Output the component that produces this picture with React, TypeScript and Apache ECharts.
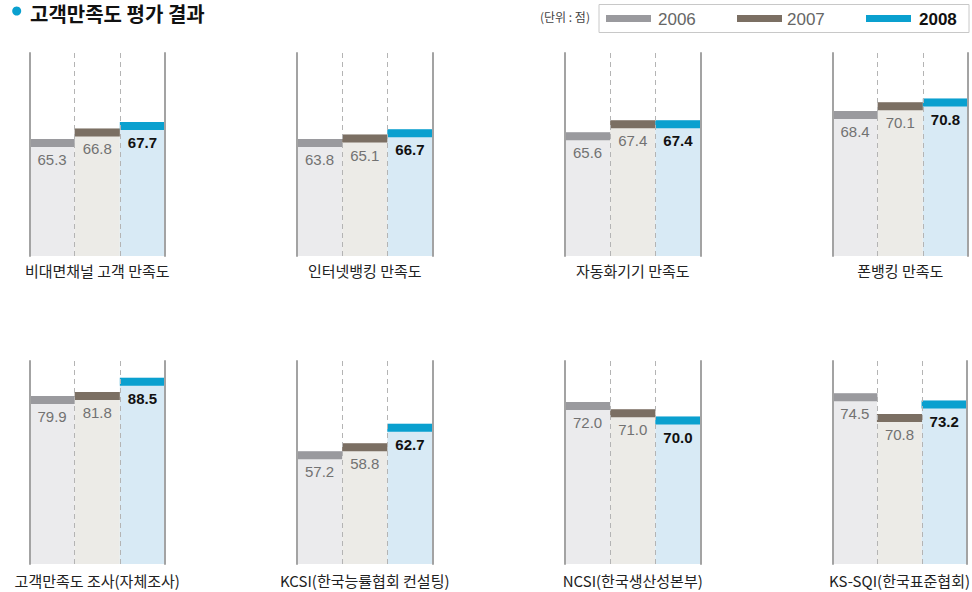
import React, { useEffect, useRef } from "react";
import * as echarts from "echarts";

const categories = [
  "비대면채널 고객 만족도",
  "인터넷뱅킹 만족도",
  "자동화기기 만족도",
  "폰뱅킹 만족도",
  "고객만족도 조사(자체조사)",
  "KCSI(한국능률협회 컨설팅)",
  "NCSI(한국생산성본부)",
  "KS-SQI(한국표준협회)",
];
const years = ["2006", "2007", "2008"];
const v2006 = [65.3, 63.8, 65.6, 68.4, 79.9, 57.2, 72.0, 74.5];
const v2007 = [66.8, 65.1, 67.4, 70.1, 81.8, 58.8, 71.0, 70.8];
const v2008 = [67.7, 66.7, 67.4, 70.8, 88.5, 62.7, 70.0, 73.2];
// per-panel value-axis ranges (the source panels are not drawn to one scale)
const axisMin = [48.7, 28.5, 47.0, 40.4, 0, 34.6, 49.8, 43.9];
const axisMax = [77.5, 89.7, 77.5, 79.6, 96.5, 75.3, 77.6, 80.3];

const FONT = '"Liberation Sans", Arial, "Noto Sans CJK KR", sans-serif';
const KFONT = '"Noto Sans CJK KR", "Liberation Sans", sans-serif';
const bandColors = ["#9a9a9e", "#7b6f63", "#0aa0cf"];
const fillColors = ["#ebebed", "#ecebe7", "#d8eaf5"];
const labelColors = ["#727272", "#727272", "#111111"];
const labelWeights = ["normal", "normal", "bold"];

const lefts = [29.5, 297, 565, 832.5];
const tops = [53, 361];
const gw = 135.5;
const gh = 203;
const nameGaps = [7, 9];

export default function App() {
  const ref = useRef<HTMLDivElement>(null);
  useEffect(() => {
    if (!ref.current) return;
    const chart = echarts.init(ref.current, undefined, { renderer: "svg" });
    const grids: any[] = [];
    const xAxes: any[] = [];
    const yAxes: any[] = [];
    const series: any[] = [];
    const bandW = gw / 3;
    categories.forEach((cat, i) => {
      const row = Math.floor(i / 4);
      const col = i % 4;
      grids.push({ left: lefts[col], top: tops[row], width: gw, height: gh, containLabel: false });
      xAxes.push({
        type: "category",
        gridIndex: i,
        data: years,
        z: 5,
        axisLine: { show: false },
        axisTick: { show: false },
        axisLabel: { show: false },
        splitLine: { show: true, lineStyle: { color: "#b4b4b4", width: 1, type: [5, 4] } },
        name: cat,
        nameLocation: "middle",
        nameGap: nameGaps[row],
        nameTextStyle: { fontSize: 15, color: "#222", fontFamily: KFONT, verticalAlign: "top" },
      });
      yAxes.push({
        type: "value",
        gridIndex: i,
        min: axisMin[i],
        max: axisMax[i],
        z: 6,
        axisLine: { show: true, onZero: false, lineStyle: { color: "#a3a3a3", width: 2 } },
        axisTick: { show: false },
        axisLabel: { show: false },
        splitLine: { show: false },
      });
      yAxes.push({
        type: "value",
        gridIndex: i,
        position: "right",
        min: 0,
        max: 1,
        z: 6,
        axisLine: { show: true, onZero: false, lineStyle: { color: "#a3a3a3", width: 2 } },
        axisTick: { show: false },
        axisLabel: { show: false },
        splitLine: { show: false },
      });
      const vals = [v2006[i], v2007[i], v2008[i]];
      series.push({
        type: "bar",
        xAxisIndex: i,
        yAxisIndex: i * 2,
        barWidth: "100%",
        barCategoryGap: 0,
        z: 2,
        data: vals.map((v, k) => ({
          value: v,
          itemStyle: { color: fillColors[k] },
          label: { color: labelColors[k], fontWeight: labelWeights[k] },
        })),
        label: {
          show: true,
          position: "insideTop",
          distance: 13,
          fontSize: 15,
          fontFamily: FONT,
          formatter: (p: any) => Number(p.value).toFixed(1),
        },
      });
      series.push({
        type: "scatter",
        xAxisIndex: i,
        yAxisIndex: i * 2,
        symbol: "rect",
        symbolSize: [bandW, 8],
        symbolOffset: [0, 4],
        z: 3,
        data: vals.map((v, k) => ({ value: [k, v], itemStyle: { color: bandColors[k], opacity: 1 } })),
      });
    });

    const legendX = [606, 737, 866];
    const legendTextX = [658, 787, 919];
    const graphic: any[] = [
      { type: "circle", shape: { cx: 16.7, cy: 11, r: 4.5 }, style: { fill: "#0aa0cf" } },
      {
        type: "text",
        x: 30,
        y: 13,
        style: { text: "고객만족도 평가 결과", fontSize: 20, fontWeight: "bold", fill: "#111", fontFamily: KFONT, verticalAlign: "middle" },
      },
      {
        type: "text",
        x: 540,
        y: 16.5,
        style: { text: "(단위 : 점)", fontSize: 12, fill: "#444", fontFamily: KFONT, verticalAlign: "middle" },
      },
      {
        type: "rect",
        shape: { x: 599, y: 4.5, width: 370, height: 28 },
        style: { fill: "none", stroke: "#c8c8c8", lineWidth: 1 },
      },
    ];
    years.forEach((y, k) => {
      graphic.push({ type: "rect", shape: { x: legendX[k], y: 15, width: 45, height: 7 }, style: { fill: bandColors[k] } });
      graphic.push({
        type: "text",
        x: legendTextX[k],
        y: 19,
        style: {
          text: y,
          fontSize: 17,
          fontWeight: k === 2 ? "bold" : "normal",
          fill: k === 2 ? "#111" : "#666",
          fontFamily: FONT,
          verticalAlign: "middle",
        },
      });
    });

    chart.setOption({
      animation: false,
      backgroundColor: "#ffffff",
      grid: grids,
      xAxis: xAxes,
      yAxis: yAxes,
      series,
      graphic,
    });
    return () => chart.dispose();
  }, []);
  return (
    <div
      ref={ref}
      style={{ position: "fixed", left: 0, top: 0, width: 972, height: 592, background: "#fff" }}
    />
  );
}
